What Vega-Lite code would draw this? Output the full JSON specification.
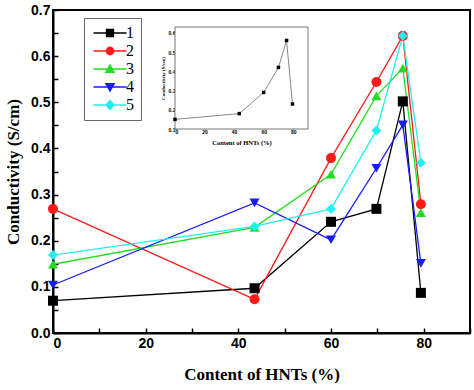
{
  "$schema": "https://vega.github.io/schema/vega-lite/v6.json",
  "width": 417,
  "height": 323,
  "autosize": "none",
  "padding": {"left": 53, "top": 10, "right": 4, "bottom": 57},
  "background": "white",
  "config": {
    "view": {"stroke": "black", "strokeWidth": 2},
    "axis": {"grid": false, "domainColor": "black", "domainWidth": 2, "tickColor": "black", "tickWidth": 1.5, "labelColor": "black", "titleColor": "black"}
  },
  "datasets": {
    "main": [
      {"x": 0, "y": 0.070, "s": "1"}, {"x": 43.5, "y": 0.097, "s": "1"}, {"x": 60, "y": 0.241, "s": "1"}, {"x": 69.8, "y": 0.269, "s": "1"}, {"x": 75.5, "y": 0.502, "s": "1"}, {"x": 79.4, "y": 0.087, "s": "1"},
      {"x": 0, "y": 0.269, "s": "2"}, {"x": 43.5, "y": 0.073, "s": "2"}, {"x": 60, "y": 0.379, "s": "2"}, {"x": 69.8, "y": 0.544, "s": "2"}, {"x": 75.5, "y": 0.644, "s": "2"}, {"x": 79.4, "y": 0.279, "s": "2"},
      {"x": 0, "y": 0.149, "s": "3"}, {"x": 43.5, "y": 0.229, "s": "3"}, {"x": 60, "y": 0.344, "s": "3"}, {"x": 69.8, "y": 0.514, "s": "3"}, {"x": 75.5, "y": 0.574, "s": "3"}, {"x": 79.4, "y": 0.261, "s": "3"},
      {"x": 0, "y": 0.104, "s": "4"}, {"x": 43.5, "y": 0.282, "s": "4"}, {"x": 60, "y": 0.202, "s": "4"}, {"x": 69.8, "y": 0.357, "s": "4"}, {"x": 75.5, "y": 0.451, "s": "4"}, {"x": 79.4, "y": 0.151, "s": "4"},
      {"x": 0, "y": 0.169, "s": "5"}, {"x": 43.5, "y": 0.231, "s": "5"}, {"x": 60, "y": 0.269, "s": "5"}, {"x": 69.8, "y": 0.439, "s": "5"}, {"x": 75.5, "y": 0.644, "s": "5"}, {"x": 79.4, "y": 0.369, "s": "5"}
    ],
    "inset": [
      {"x": 0, "y": 0.15}, {"x": 43.5, "y": 0.18}, {"x": 60, "y": 0.29}, {"x": 70, "y": 0.42}, {"x": 75.5, "y": 0.56}, {"x": 79.5, "y": 0.23}
    ],
    "frame": [{"x0": 0, "x1": 90, "y0": 0.1, "y1": 0.63}]
  },
  "layer": [
    {
      "data": {"name": "main"},
      "encoding": {
        "x": {"field": "x", "type": "quantitative", "scale": {"domain": [0, 90], "nice": false},
          "axis": {"orient": "bottom", "values": [0, 10, 20, 30, 40, 50, 60, 70, 80, 90], "labelExpr": "datum.value % 20 === 0 ? datum.label : ''",
            "tickSize": -5, "labelPadding": 8, "labelFont": "Liberation Sans", "labelFontWeight": "bold", "labelFontSize": 14,
            "title": "Content of HNTs (%)", "titleFont": "Liberation Serif", "titleFontWeight": "bold", "titleFontSize": 17, "titlePadding": 16}},
        "y": {"field": "y", "type": "quantitative", "scale": {"domain": [0, 0.7], "nice": false},
          "axis": {"orient": "left", "values": [0, 0.05, 0.1, 0.15, 0.2, 0.25, 0.3, 0.35, 0.4, 0.45, 0.5, 0.55, 0.6, 0.65, 0.7], "format": ".1f",
            "labelExpr": "round(datum.value * 100) % 10 === 0 ? datum.label : ''",
            "tickSize": -5, "labelPadding": 8, "labelFont": "Liberation Sans", "labelFontWeight": "bold", "labelFontSize": 14,
            "title": "Conductivity (S/cm)", "titleFont": "Liberation Serif", "titleFontWeight": "bold", "titleFontSize": 17, "titlePadding": 8}}
      },
      "layer": [
        {"mark": {"type": "line", "strokeWidth": 1.3},
          "encoding": {"color": {"field": "s", "type": "nominal",
            "scale": {"domain": ["1", "2", "3", "4", "5"], "range": ["#000000", "#ff1a1a", "#22dd22", "#1a1aff", "#22f0f0"]},
            "legend": {"title": null, "orient": "none", "legendX": 31, "legendY": 8, "strokeColor": "#666", "padding": 7,
              "labelFont": "Liberation Serif", "labelFontSize": 16, "labelColor": "black", "symbolSize": 100, "rowPadding": 2,
              "symbolStrokeWidth": 1.3, "symbolOffset": 11, "labelOffset": 8,
              "symbolFillColor": {"expr": "scale('color', datum.value)"},
              "symbolType": {"expr": "datum.value === '1' ? 'M-3.3,0H3.3M-0.7,-0.7H0.7V0.7H-0.7Z' : datum.value === '2' ? 'M-3.3,0H3.3M-0.75,0A0.75,0.75 0 1,0 0.75,0A0.75,0.75 0 1,0 -0.75,0Z' : datum.value === '3' ? 'M-3.3,0H3.3M0,-0.85L0.85,0.65L-0.85,0.65Z' : datum.value === '4' ? 'M-3.3,0H3.3M0,0.85L0.85,-0.65L-0.85,-0.65Z' : 'M-3.3,0H3.3M0,-0.9L0.8,0L0,0.9L-0.8,0Z'"}}}}},
        {"mark": {"type": "point", "filled": true, "size": 100, "opacity": 1},
          "encoding": {
            "color": {"field": "s", "type": "nominal", "legend": null},
            "shape": {"field": "s", "type": "nominal",
              "scale": {"domain": ["1", "2", "3", "4", "5"], "range": ["square", "circle", "triangle-up", "triangle-down", "diamond"]}, "legend": null}}}
      ],
      "resolve": {"legend": {"color": "independent"}}
    },
    {
      "layer": [
        {"data": {"name": "frame"},
          "mark": {"type": "rect", "fill": "white", "stroke": "#777", "strokeWidth": 1},
          "encoding": {
            "x": {"field": "x0", "type": "quantitative", "scale": {"domain": [0, 90], "range": [122, 255], "nice": false},
              "axis": {"orient": "bottom", "offset": -204, "values": [0, 20, 40, 60, 80], "domain": false, "tickSize": -2, "tickColor": "#555", "tickWidth": 0.8,
                "labelFont": "Liberation Sans", "labelFontWeight": "bold", "labelFontSize": 5, "labelPadding": 2,
                "title": "Content of HNTs (%)", "titleFont": "Liberation Serif", "titleFontWeight": "bold", "titleFontSize": 6.5, "titlePadding": 5}},
            "x2": {"field": "x1"},
            "y": {"field": "y0", "type": "quantitative", "scale": {"domain": [0.1, 0.63], "range": [119, 17], "nice": false},
              "axis": {"orient": "left", "offset": -122, "values": [0.1, 0.2, 0.3, 0.4, 0.5, 0.6], "format": ".1f", "domain": false, "tickSize": -2, "tickColor": "#555", "tickWidth": 0.8,
                "labelFont": "Liberation Sans", "labelFontWeight": "bold", "labelFontSize": 5, "labelPadding": 2,
                "title": "Conductivity (S/cm)", "titleFont": "Liberation Serif", "titleFontWeight": "bold", "titleFontSize": 5, "titlePadding": 3}},
            "y2": {"field": "y1"}
          }},
        {"data": {"name": "inset"},
          "mark": {"type": "line", "color": "#888", "strokeWidth": 1},
          "encoding": {"x": {"field": "x", "type": "quantitative"}, "y": {"field": "y", "type": "quantitative"}}},
        {"data": {"name": "inset"},
          "mark": {"type": "square", "color": "black", "size": 12, "opacity": 1},
          "encoding": {"x": {"field": "x", "type": "quantitative"}, "y": {"field": "y", "type": "quantitative"}}}
      ]
    }
  ],
  "resolve": {"scale": {"x": "independent", "y": "independent"}}
}
